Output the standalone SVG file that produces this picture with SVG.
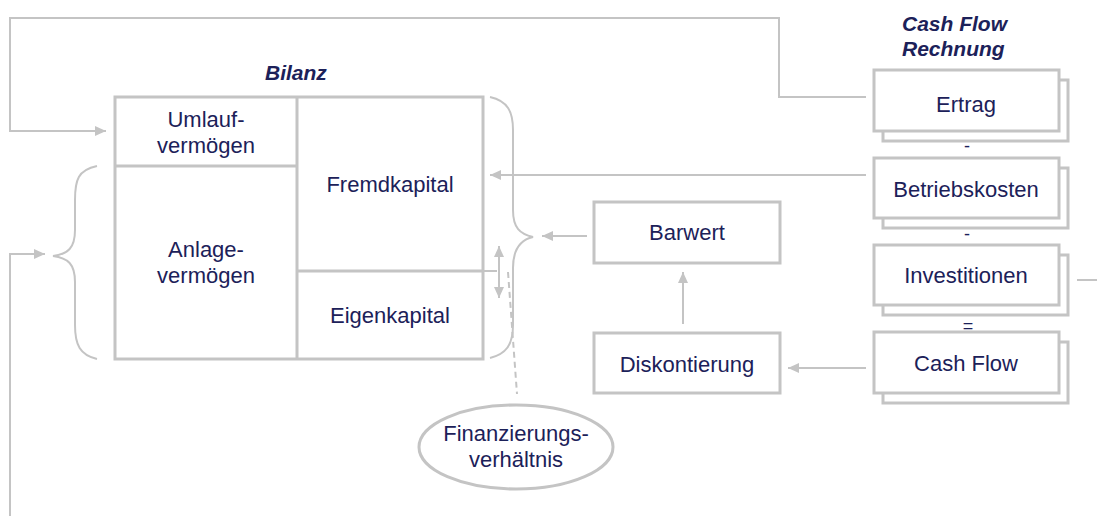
<svg xmlns="http://www.w3.org/2000/svg" width="1097" height="516" viewBox="0 0 1097 516">
<style>
.box{fill:#fff;stroke:#c4c4c4;stroke-width:3}
.ln{fill:none;stroke:#c4c4c4;stroke-width:2}
.t{font-family:"Liberation Sans",Arial,sans-serif;font-size:22px;fill:#1c2159;text-anchor:middle}
.h{font-family:"Liberation Sans",Arial,sans-serif;font-size:21px;font-weight:bold;font-style:italic;fill:#1c2159}
.op{font-family:"Liberation Sans",Arial,sans-serif;font-size:18px;fill:#1c2159;text-anchor:middle}
</style>
<defs>
<marker id="ah" markerWidth="12" markerHeight="10" refX="11" refY="5" orient="auto" markerUnits="userSpaceOnUse">
<path d="M0,0 L11,5 L0,10 Z" fill="#c4c4c4"/>
</marker>
<marker id="ahs" markerWidth="12" markerHeight="10" refX="0" refY="5" orient="auto" markerUnits="userSpaceOnUse">
<path d="M11,0 L0,5 L11,10 Z" fill="#c4c4c4"/>
</marker>
</defs>

<text class="h" x="265" y="80">Bilanz</text>
<text class="h" x="902" y="31">Cash Flow</text>
<text class="h" x="902" y="56">Rechnung</text>

<g id="bilanz">
<rect class="box" x="115" y="97" width="368" height="262"/>
<line class="box" x1="297" y1="97" x2="297" y2="359"/>
<line class="box" x1="115" y1="166" x2="297" y2="166"/>
<line class="box" x1="297" y1="271" x2="483" y2="271"/>
</g>
<g id="umlaufvermoegen">
<text class="t" x="206" y="127">Umlauf-</text>
<text class="t" x="206" y="153">vermögen</text>
</g>
<g id="anlagevermoegen">
<text class="t" x="206" y="257">Anlage-</text>
<text class="t" x="206" y="283">vermögen</text>
</g>
<g id="fremdkapital">
<text class="t" x="390" y="192">Fremdkapital</text>
</g>
<g id="eigenkapital">
<text class="t" x="390" y="323">Eigenkapital</text>
</g>

<g id="barwert">
<rect class="box" x="594" y="202" width="186" height="61"/>
<text class="t" x="687" y="240">Barwert</text>
</g>
<g id="diskontierung">
<rect class="box" x="594" y="333" width="186" height="60"/>
<text class="t" x="687" y="372">Diskontierung</text>
</g>

<g id="ertrag">
<rect class="box" x="883" y="80" width="185" height="61"/>
<rect class="box" x="874" y="70" width="185" height="61"/>
<text class="t" x="966" y="112">Ertrag</text>
</g>
<g id="betriebskosten">
<rect class="box" x="883" y="168" width="185" height="60"/>
<rect class="box" x="874" y="158" width="185" height="60"/>
<text class="t" x="966" y="197">Betriebskosten</text>
</g>
<g id="investitionen">
<rect class="box" x="883" y="255" width="185" height="60"/>
<rect class="box" x="874" y="245" width="185" height="60"/>
<text class="t" x="966" y="283">Investitionen</text>
</g>
<g id="cashflow">
<rect class="box" x="883" y="342" width="185" height="61"/>
<rect class="box" x="874" y="332" width="185" height="61"/>
<text class="t" x="966" y="371">Cash Flow</text>
</g>
<g id="operators">
<text class="op" x="967" y="152">-</text>
<text class="op" x="967" y="240">-</text>
<text class="op" x="968" y="332">=</text>
</g>

<g id="finanzierungsverhaeltnis">
<ellipse cx="516" cy="447" rx="97" ry="42" fill="#fff" stroke="#c4c4c4" stroke-width="3"/>
<text class="t" x="516" y="441">Finanzierungs-</text>
<text class="t" x="516" y="467">verhältnis</text>
</g>

<g id="connectors">
<polyline class="ln" points="866,97 779,97 779,18 10,18 10,131 106,131" marker-end="url(#ah)"/>
<polyline class="ln" points="10,516 10,254 45,254" marker-end="url(#ah)"/>
<path class="ln" d="M97,166 C78,170 75,180 75,200 L75,230 C75,248 68,254 53,256 C68,258 75,264 75,282 L75,325 C75,345 80,355 97,359"/>
<path class="ln" d="M490,97 C508,101 513,112 513,130 L513,210 C513,228 520,234 533,237 C520,240 513,250 513,268 L513,325 C513,345 506,354 490,358"/>
<line class="ln" x1="866" y1="175" x2="490" y2="175" marker-end="url(#ah)"/>
<line class="ln" x1="587" y1="236" x2="542" y2="236" marker-end="url(#ah)"/>
<line class="ln" x1="866" y1="368" x2="788" y2="368" marker-end="url(#ah)"/>
<line class="ln" x1="683" y1="324" x2="683" y2="272" marker-end="url(#ah)"/>
<line class="ln" x1="483" y1="271" x2="497" y2="271"/>
<line class="ln" x1="499" y1="246" x2="499" y2="298" marker-start="url(#ahs)" marker-end="url(#ah)"/>
<line class="ln" x1="508" y1="272" x2="517" y2="394" stroke-dasharray="6,4"/>
<line class="ln" x1="1077" y1="280" x2="1097" y2="280"/>
</g>
</svg>
